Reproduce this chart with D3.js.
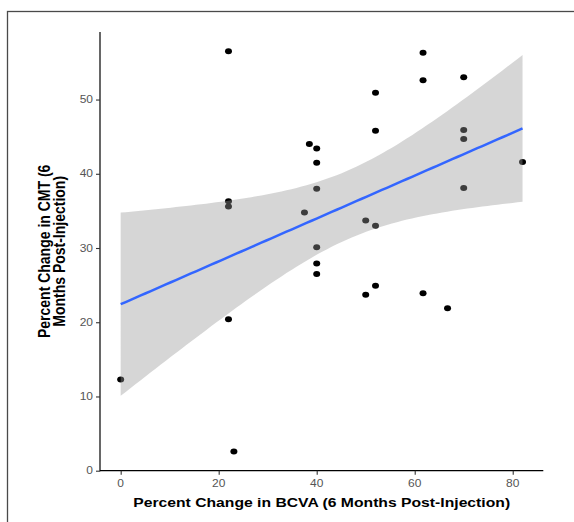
<!DOCTYPE html>
<html>
<head>
<meta charset="utf-8">
<script src="https://cdn.jsdelivr.net/npm/d3@7"></script>
<style>
html,body{margin:0;padding:0;background:#fff;}
svg{display:block;}
text{font-family:"Liberation Sans",Arial,Helvetica,sans-serif;}
</style>
</head>
<body>
<svg id="chart" width="574" height="522"></svg>
<script>
// Data
const bcvaChange = [0, 22, 22, 22, 22, 23.1, 61.7, 61.7, 70, 52, 52, 70, 70, 38.5, 40, 40, 82, 40, 70, 37.5, 50, 52, 40, 40, 40, 50, 52, 61.7, 66.7];
const cmtChange  = [12.3, 56.5, 36.3, 35.6, 20.4, 2.6, 56.3, 52.6, 53.0, 50.9, 45.8, 45.9, 44.7, 44.0, 43.4, 41.5, 41.6, 38.0, 38.1, 34.8, 33.7, 33.0, 30.1, 27.9, 26.5, 23.7, 24.9, 23.9, 21.9];
const xTicks = [0, 20, 40, 60, 80];
const yTicks = [0, 10, 20, 30, 40, 50];
const xTitle = "Percent Change in BCVA (6 Months Post-Injection)";
const yTitleLines = ["Percent Change in CMT (6", "Months Post-Injection)"];
const tCrit = 2.052; // t(0.975, df = 27)

const svg = d3.select("#chart");
const SX = 1.2;

// outer frame
svg.append("rect").attr("x", 7.5).attr("y", 11.5).attr("width", 600).attr("height", 600)
  .attr("fill", "none").attr("stroke", "#4a4a4a").attr("stroke-width", 1.3);

const x = d3.scaleLinear().domain([-4.22, 86.24]).range([100, 543.3]);
const y = d3.scaleLinear().domain([0, 59.1]).range([470.7, 32]);

const data = bcvaChange.map((v, i) => ({x: v, y: cmtChange[i]}));

// points (drawn beneath the band, as in ggplot)
svg.append("g").selectAll("ellipse").data(data).join("ellipse")
  .attr("cx", d => x(d.x)).attr("cy", d => y(d.y))
  .attr("rx", 3.5).attr("ry", 3.0).attr("fill", "#000");

// linear regression with 95% CI
const n = data.length;
const mx = d3.mean(data, d => d.x), my = d3.mean(data, d => d.y);
const sxx = d3.sum(data, d => (d.x - mx) ** 2);
const sxy = d3.sum(data, d => (d.x - mx) * (d.y - my));
const b = sxy / sxx, a = my - b * mx;
const sse = d3.sum(data, d => (d.y - (a + b * d.x)) ** 2);
const s = Math.sqrt(sse / (n - 2));
const [xmin, xmax] = d3.extent(data, d => d.x);
const grid = d3.range(0, 81).map(i => xmin + (xmax - xmin) * i / 80).map(xv => {
  const fit = a + b * xv;
  const se = s * Math.sqrt(1 / n + (xv - mx) ** 2 / sxx);
  return {x: xv, fit, lo: fit - tCrit * se, hi: fit + tCrit * se};
});

svg.append("path").datum(grid)
  .attr("d", d3.area().x(d => x(d.x)).y0(d => y(d.lo)).y1(d => y(d.hi)))
  .attr("fill", "#999999").attr("fill-opacity", 0.4);
svg.append("path").datum(grid)
  .attr("d", d3.line().x(d => x(d.x)).y(d => y(d.fit)))
  .attr("fill", "none").attr("stroke", "#3366FF").attr("stroke-width", 2.5);

// axes
const gx = svg.append("g").attr("transform", `translate(0,${y.range()[0]})`)
  .call(d3.axisBottom(x).tickValues(xTicks).tickSize(4).tickFormat(""));
const gy = svg.append("g").attr("transform", `translate(${x.range()[0]},0)`)
  .call(d3.axisLeft(y).tickValues(yTicks).tickSize(4).tickFormat(""));
[gx, gy].forEach(g => {
  g.select(".domain").attr("stroke", "#000").attr("stroke-width", 1.2);
  g.selectAll(".tick line").attr("stroke", "#333").attr("stroke-width", 1.1);
});
gx.select(".domain").attr("d", `M${x.range()[0]},0H${x.range()[1]}`);
gy.select(".domain").attr("d", `M0,${y.range()[1]}V${y.range()[0]+0.6}`);

// tick labels
svg.append("g").selectAll("g").data(xTicks).join("g")
  .attr("transform", d => `translate(${x(d)},483.5) scale(${SX},1)`)
  .append("text").attr("text-anchor", "middle").attr("dy", "0.35em")
  .attr("font-size", 10).attr("fill", "#555").text(d => d);
svg.append("g").selectAll("g").data(yTicks).join("g")
  .attr("transform", d => `translate(93,${y(d)}) scale(${SX},1)`)
  .append("text").attr("text-anchor", "end").attr("dy", "0.35em")
  .attr("font-size", 10).attr("fill", "#555").text(d => d);

// titles
svg.append("g").attr("transform", `translate(${(x.range()[0] + x.range()[1]) / 2},502) scale(1.21,1)`)
  .append("text").attr("text-anchor", "middle").attr("dy", "0.35em")
  .attr("font-size", 13).attr("font-weight", "bold").attr("fill", "#000").text(xTitle);
const yMid = (y.range()[0] + y.range()[1]) / 2;
svg.append("g").selectAll("g").data(yTitleLines).join("g")
  .attr("transform", (d, i) => `translate(${44.5 + i * 15},${yMid}) scale(1.15,1) rotate(-90)`)
  .append("text").attr("text-anchor", "middle").attr("dy", "0.35em")
  .attr("font-size", 14).attr("font-weight", "bold").attr("fill", "#000").text(d => d);
</script>
</body>
</html>
